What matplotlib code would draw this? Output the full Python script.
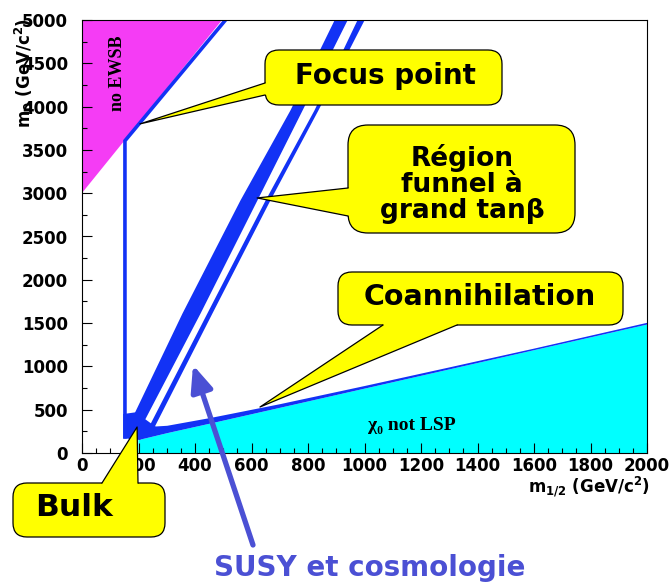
import matplotlib
matplotlib.use("Agg")
import matplotlib.pyplot as plt
from matplotlib.patches import FancyBboxPatch, Polygon
from matplotlib.ticker import MultipleLocator

plt.rcParams["font.family"] = ["DejaVu Sans"]
plt.rcParams["font.weight"] = "bold"
plt.rcParams["mathtext.fontset"] = "dejavusans"
plt.rcParams["mathtext.default"] = "bf"

# --- data (m1/2, m0 in GeV/c^2) ---
# no EWSB triangle
ewsb_x = [0, 0, 496]
ewsb_y = [3000, 5000, 5000]

# focus point strip: vertical part then along the EWSB edge
focus_x = [152, 152, 508]
focus_y = [185, 3605, 5000]

# funnel, thick band (edges in m1/2 as function of m0)
funnel_y = [330, 1617, 2921, 3961, 5000]
funnel_left = [165, 354, 559, 736, 892]
funnel_right = [212, 418, 619, 779, 938]

# funnel, thin band
thin_y = [310, 1617, 2921, 3961, 5000]
thin_left = [236, 442, 648, 821, 973]
thin_right = [256, 460, 665, 835, 998]

# bulk blob where the strips meet
bulk_x = [146, 146, 205, 262, 190]
bulk_y = [450, 170, 152, 300, 470]

# coannihilation strip / chi0 not LSP boundary
coan_x = [198, 300, 453, 700, 1000, 1300, 1600, 2000]
coan_lo = [155, 235, 346, 528, 750, 972, 1194, 1490]
coan_hi = [300, 320, 410, 570, 780, 995, 1212, 1510]

# callout tips (data coords)
tip_focus = (205, 3800)
tip_funnel = (620, 2945)
tip_coan = (630, 531)
tip_bulk = (195, 300)
tip_arrow = (393, 1016)

blue = "#1232f5"
arrow_col = "#4b50d4"

fig = plt.figure(figsize=(6.7, 5.82), dpi=100)
ax = fig.add_axes([82 / 670, 129 / 582, 565 / 670, 433 / 582])

ax.fill(ewsb_x, ewsb_y, color="#f53cf5", lw=0)
ax.fill_between(coan_x, 0, coan_lo, color="#00ffff", lw=0)
ax.fill_between(coan_x, coan_lo, coan_hi, color=blue, lw=0)
ax.fill_betweenx(funnel_y, funnel_left, funnel_right, color=blue, lw=0)
ax.fill_betweenx(thin_y, thin_left, thin_right, color=blue, lw=0)
ax.fill(bulk_x, bulk_y, color=blue, lw=0)
ax.plot(focus_x, focus_y, color=blue, lw=2.6, solid_joinstyle="miter")

ax.text(126, 4382, "no EWSB", rotation=90, ha="center", va="center",
        fontsize=13, family=["Liberation Serif", "DejaVu Serif"])
ax.text(1168, 323, "χ₀ not LSP", ha="center", va="center",
        fontsize=14, family=["Liberation Serif", "DejaVu Serif"])

ax.set_xlim(0, 2000)
ax.set_ylim(0, 5000)
ax.xaxis.set_major_locator(MultipleLocator(200))
ax.xaxis.set_minor_locator(MultipleLocator(50))
ax.yaxis.set_major_locator(MultipleLocator(500))
ax.yaxis.set_minor_locator(MultipleLocator(250))
ax.tick_params(which="both", direction="in", width=0.8, labelsize=12)
ax.tick_params(which="major", length=7)
ax.tick_params(which="minor", length=3.6)
ax.tick_params(axis="y", pad=10)
ax.tick_params(axis="x", pad=3)
for s in ax.spines.values():
    s.set_linewidth(0.8)

# overlay in image pixel coordinates for callouts
ov = fig.add_axes([0, 0, 1, 1])
ov.set_xlim(0, 670)
ov.set_ylim(582, 0)
ov.axis("off")
ov.patch.set_alpha(0)


def to_px(pt):
    return ov.transData.inverted().transform(ax.transData.transform(pt))


def callout(box, base, tip, lines, size, text_xy=None, rs=14):
    x0, y0, x1, y1 = box
    ov.add_patch(FancyBboxPatch((x0, y0), x1 - x0, y1 - y0,
                                boxstyle=f"round,pad=0,rounding_size={rs}",
                                fc="#ffff00", ec="black", lw=0.9, zorder=3))
    tx, ty = to_px(tip)
    (bx1, by1), (bx2, by2), (dx, dy) = base
    poly = [(bx1 + dx, by1 + dy), (bx1, by1), (tx, ty), (bx2, by2),
            (bx2 + dx, by2 + dy)]
    ov.add_patch(Polygon(poly, closed=True, fc="#ffff00", ec="none", zorder=4))
    ov.plot([bx1, tx, bx2], [by1, ty, by2], color="black", lw=0.9, zorder=5)
    if text_xy is None:
        text_xy = ((x0 + x1) / 2, (y0 + y1) / 2)
    ov.text(text_xy[0], text_xy[1], lines, ha="center", va="center",
            fontsize=size, zorder=6, linespacing=1.0)


callout((265, 50, 502, 105), ((265, 83), (265, 95), (3, 0)), tip_focus,
        "Focus point", 20, text_xy=(385, 76))
callout((348, 125, 575, 233), ((348, 188), (348, 216), (3, 0)), tip_funnel,
        "Région\nfunnel à\ngrand tanβ", 19, text_xy=(462, 184), rs=20)
callout((338, 272, 623, 325), ((383, 325), (457, 325), (0, -3)), tip_coan,
        "Coannihilation", 20.5, text_xy=(480, 297))
callout((13, 483, 165, 537), ((102, 483), (138, 483), (0, 3)), tip_bulk,
        "Bulk", 22.5, text_xy=(74, 508))

ov.annotate("", xy=to_px(tip_arrow), xytext=(253, 545),
            arrowprops=dict(arrowstyle="-|>,head_length=1.3,head_width=0.55",
                            color=arrow_col, lw=3.8, mutation_scale=12,
                            shrinkA=0, shrinkB=0))
ov.text(370, 568, "SUSY et cosmologie", color=arrow_col, fontsize=20,
        ha="center", va="center")

ov.text(650, 487, r"m$_{1/2}$ (GeV/c$^2$)", ha="right", va="center", fontsize=12)
ov.text(24, 18, r"m$_0$ (GeV/c$^2$)", ha="center", va="top", rotation=90,
        fontsize=12)

fig.savefig("out.png", dpi=100)
